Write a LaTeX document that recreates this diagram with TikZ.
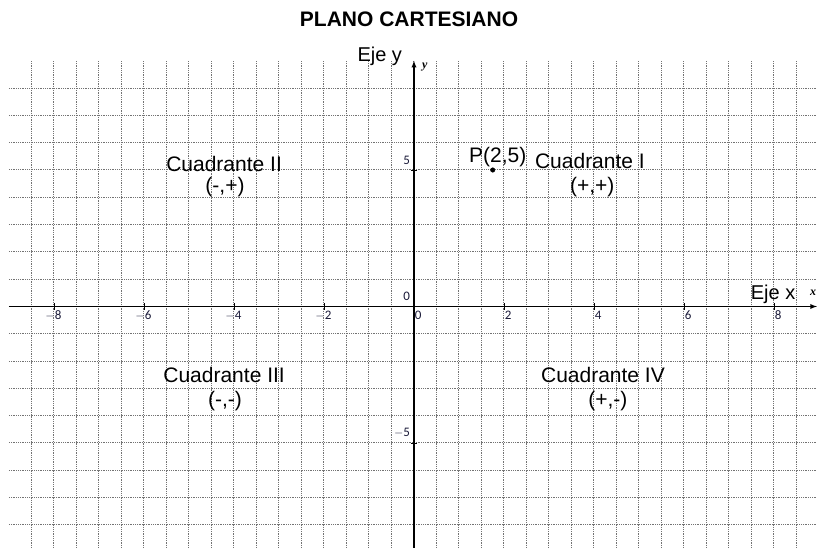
\documentclass[tikz,border=0pt]{standalone}
\usepackage{fontspec}
\setmainfont{Liberation Sans}
\newfontfamily\tickfont{Carlito}
\newfontfamily\varfont{Liberation Serif}
\usepackage{tikz}
\usetikzlibrary{arrows,positioning}
\definecolor{lblblue}{rgb}{0.1,0.1,0.22}
\tikzstyle{gridline}=[black!55,line width=1pt,dash pattern=on 1pt off 0.8pt]
\tikzstyle{axis}=[black,line width=1.3pt]
\tikzstyle{quad}=[anchor=base,inner sep=0pt,font=\fontsize{21}{24}\selectfont]
\tikzstyle{ticklbl}=[inner sep=1.5pt,text=lblblue,font=\tickfont\fontsize{13}{15}\selectfont]
\tikzstyle{varlbl}=[inner sep=0pt,font=\varfont\itshape\bfseries\fontsize{12}{14}\selectfont]
\tikzstyle{circ}=[circle,fill=black,draw,inner sep=1.6pt]

\begin{document}
\begin{tikzpicture}[x=45pt,y=27.3pt]
\useasboundingbox (-9.2,-8.846) rectangle (8.956,11.227);
% grid
\foreach \i in {-8.5,-8,...,8.5}
  \draw[gridline] (\i,-8.846) -- (\i,9);
\foreach \j in {-8,...,8}
  \draw[gridline] (-9,\j) -- (8.956,\j);
% axes
\coordinate (xl) at (-9,0);
\coordinate (xr) at (8.956,0);
\coordinate (yb) at (0,-8.846);
\coordinate (yt) at (0,9);
\path[axis,->,>=latex]
(xl) edge (xr)
(yb) edge (yt);
\foreach \i in {-8,-6,...,8}
  \draw[line width=0.9pt] (\i,-0.12) -- (\i,0.12);
\foreach \j in {-5,5}
  \draw[line width=0.9pt] (-0.07,\j) -- (0.07,\j);
% tick labels
\foreach \i in {-8,-6,-4,-2}
  \node[ticklbl,anchor=north west] (tx\i) at (\i-0.02,-0.1) {\llap{$-$}\the\numexpr-\i\relax};
\foreach \i in {0,2,4,6,8}
  \node[ticklbl,anchor=north west] (tx\i) at (\i-0.02,-0.1) {\i};
\node[ticklbl,anchor=south east] (ty0) at (-0.05,0.15) {0};
\node[ticklbl,anchor=south east] (ty5) at (-0.05,5.15) {5};
\node[ticklbl,anchor=south east] (tym5) at (-0.05,-4.85) {$-$5};
% labels
\node[quad,font=\bfseries\fontsize{21}{24}\selectfont] (title) at (-0.11,10.24) {PLANO CARTESIANO};
\node[quad,font=\fontsize{20}{24}\selectfont] (ejey) at (-0.76,8.96) {Eje y};
\node[quad,font=\fontsize{20}{24}\selectfont] (ejex) at (7.98,0.24) {Eje x};
\node[varlbl] (ylbl) at (0.24,8.77) {y};
\node[varlbl] (xlbl) at (8.87,0.49) {x};
\node[quad] (q2) at (-4.22,4.93) {Cuadrante II};
\node[quad] (s2) at (-4.2,4.16) {(-,+)};
\node[quad] (q1) at (3.91,5.04) {Cuadrante I};
\node[quad] (s1) at (3.96,4.16) {(+,+)};
\node[quad] (q3) at (-4.22,-2.8) {Cuadrante III};
\node[quad] (s3) at (-4.2,-3.68) {(-,-)};
\node[quad] (q4) at (4.2,-2.8) {Cuadrante IV};
\node[quad] (s4) at (4.31,-3.68) {(+,-)};
% point
\node[circ] (P) at (1.75,5) {};
\node[quad] (Plbl) at (1.86,5.29) {P(2,5)};
\end{tikzpicture}
\end{document}
